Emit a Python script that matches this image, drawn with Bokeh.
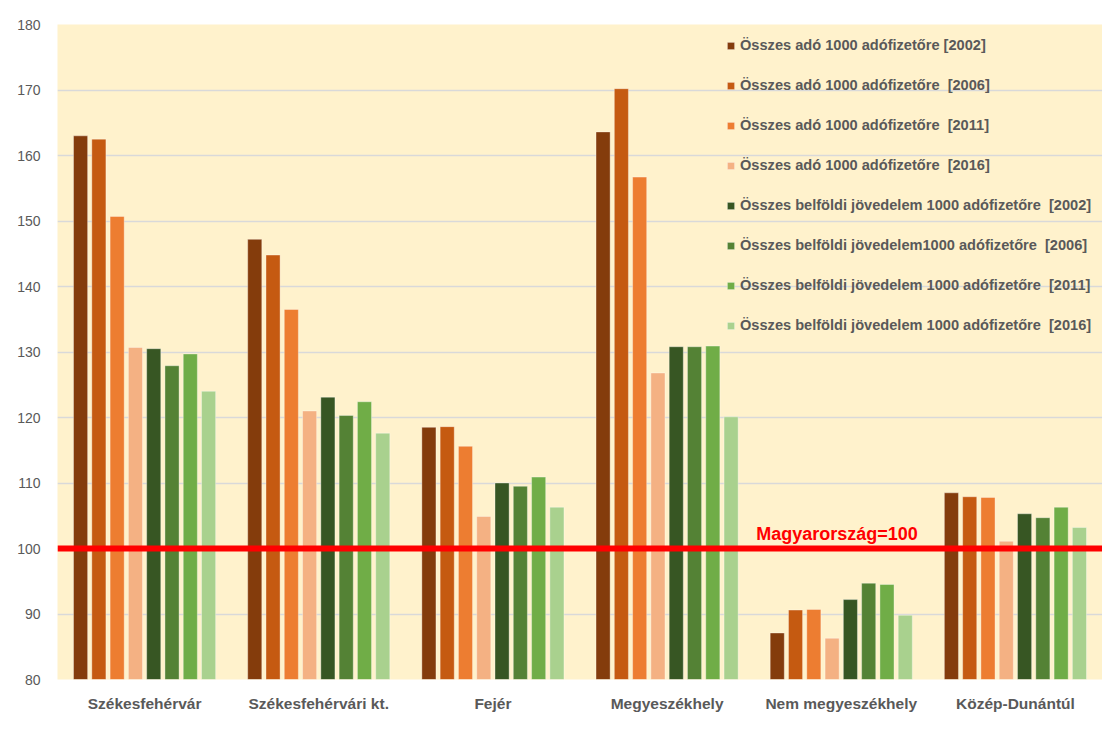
from bokeh.plotting import figure
from bokeh.models import (ColumnDataSource, FactorRange, Range1d, Span, Label,
                          Legend, LegendItem, FixedTicker)
from bokeh.transform import dodge
from bokeh.embed import file_html
from bokeh.resources import INLINE

# ---------------- data ----------------
categories = ["Székesfehérvár", "Székesfehérvári kt.", "Fejér",
              "Megyeszékhely", "Nem megyeszékhely", "Közép-Dunántúl"]

series_labels = [
    "Összes adó 1000 adófizetőre [2002]",
    "Összes adó 1000 adófizetőre  [2006]",
    "Összes adó 1000 adófizetőre  [2011]",
    "Összes adó 1000 adófizetőre  [2016]",
    "Összes belföldi jövedelem 1000 adófizetőre  [2002]",
    "Összes belföldi jövedelem1000 adófizetőre  [2006]",
    "Összes belföldi jövedelem 1000 adófizetőre  [2011]",
    "Összes belföldi jövedelem 1000 adófizetőre  [2016]",
]

ado_2002 = [163.0, 147.2, 118.5, 163.6, 87.1, 108.5]
ado_2006 = [162.5, 144.8, 118.6, 170.2, 90.6, 107.9]
ado_2011 = [150.7, 136.5, 115.6, 156.7, 90.7, 107.8]
ado_2016 = [130.7, 121.0, 104.9, 126.8, 86.3, 101.1]
jov_2002 = [130.5, 123.1, 110.0, 130.8, 92.2, 105.3]
jov_2006 = [127.9, 120.3, 109.5, 130.8, 94.7, 104.7]
jov_2011 = [129.7, 122.4, 110.9, 130.9, 94.5, 106.3]
jov_2016 = [124.0, 117.6, 106.3, 120.1, 89.8, 103.2]

y_ticks = [80, 90, 100, 110, 120, 130, 140, 150, 160, 170, 180]
reference_value = 100
reference_text = "Magyarország=100"

series_values = [ado_2002, ado_2006, ado_2011, ado_2016,
                 jov_2002, jov_2006, jov_2011, jov_2016]
colors = ["#843C0C", "#C55A11", "#ED7D31", "#F4B183",
          "#375623", "#548235", "#70AD47", "#A9D18E"]

# ---------------- figure ----------------
FONT = "Liberation Sans"
TXT = "#595959"

p = figure(x_range=FactorRange(*categories, range_padding=0),
           y_range=Range1d(y_ticks[0], y_ticks[-1]),
           frame_width=1045, frame_height=655,
           min_border_left=57, min_border_right=0,
           min_border_top=24, min_border_bottom=50,
           output_backend="svg", toolbar_location=None)

p.background_fill_color = "#FFF2CC"
p.border_fill_color = "white"
p.outline_line_color = None

src = ColumnDataSource(dict(cat=categories,
                            **{f"s{i}": v for i, v in enumerate(series_values)}))

step = 0.105
width = 0.081
items = []
for i, (lab, col) in enumerate(zip(series_labels, colors)):
    r = p.vbar(x=dodge("cat", (i - 3.5) * step, range=p.x_range),
               top=f"s{i}", bottom=y_ticks[0], width=width, source=src,
               fill_color=col, line_color="white", line_alpha=0.35, line_width=1)
    items.append(LegendItem(label=lab, renderers=[r]))

# reference line
p.add_layout(Span(location=reference_value, dimension="width",
                  line_color="#FF0000", line_width=6))
p.add_layout(Label(x=4.012, y=reference_value, y_offset=15, text=reference_text,
                   text_color="#FF0000", text_font_size="18px",
                   text_font_style="bold", text_font=FONT,
                   text_baseline="alphabetic"))

# axes
p.yaxis.ticker = FixedTicker(ticks=y_ticks)
p.yaxis.axis_line_color = None
p.yaxis.major_tick_line_color = None
p.yaxis.minor_tick_line_color = None
p.yaxis.major_label_standoff = 11
p.yaxis.major_label_text_font = FONT
p.yaxis.major_label_text_font_size = "14px"
p.yaxis.major_label_text_color = TXT

p.xaxis.axis_line_color = None
p.xaxis.major_tick_line_color = None
p.xaxis.minor_tick_line_color = None
p.xaxis.major_label_standoff = 9
p.xaxis.major_label_text_font = FONT
p.xaxis.major_label_text_font_size = "15.5px"
p.xaxis.major_label_text_font_style = "bold"
p.xaxis.major_label_text_color = TXT

p.xgrid.grid_line_color = None
p.ygrid.grid_line_color = "#D9D9D9"
p.ygrid.grid_line_width = 1.5

legend = Legend(items=items, location=(669, 344),
                background_fill_alpha=0, border_line_color=None,
                padding=0, margin=0, spacing=20, label_height=20,
                glyph_width=9, glyph_height=9, label_standoff=5,
                label_text_font=FONT, label_text_font_size="14.6px",
                label_text_font_style="bold", label_text_color=TXT)
p.add_layout(legend)

open("out.html", "w").write(file_html(p, INLINE))
